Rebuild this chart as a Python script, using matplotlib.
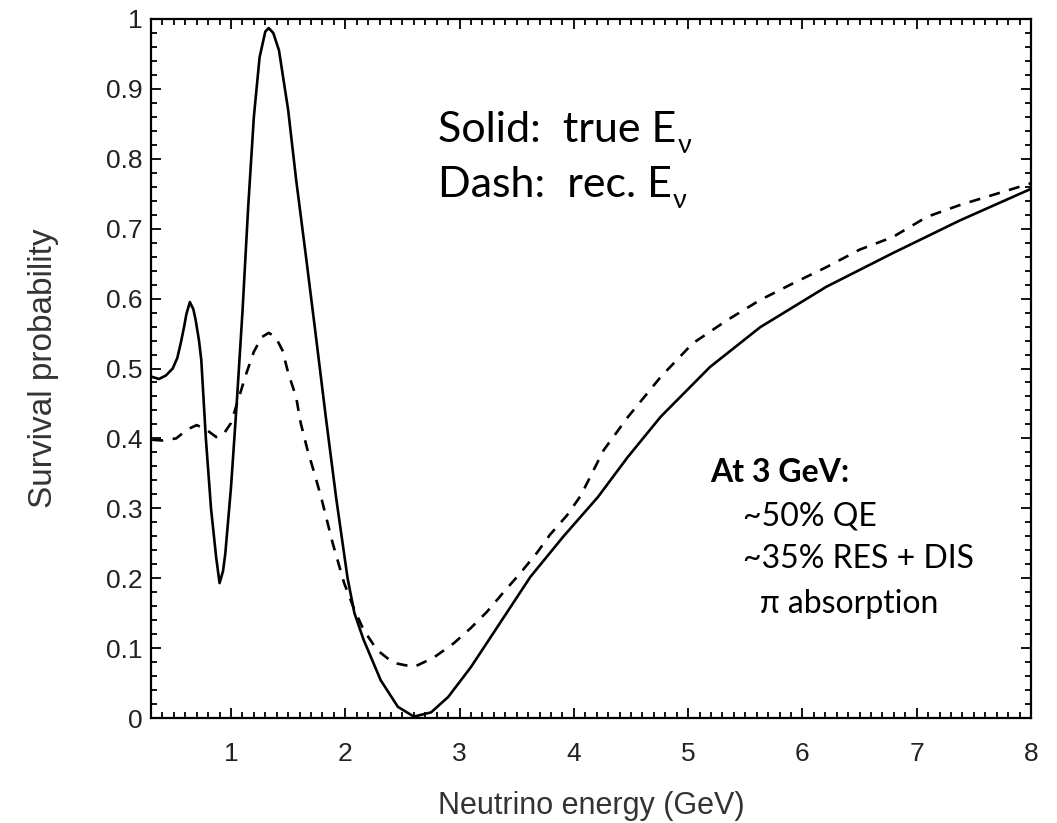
import matplotlib
matplotlib.use("Agg")
import matplotlib.pyplot as plt
from matplotlib.ticker import MultipleLocator, FuncFormatter

# ---- data ----
e_true = [0.31, 0.37, 0.43, 0.49, 0.53, 0.56, 0.59, 0.61, 0.64, 0.67, 0.69, 0.72,
          0.74, 0.78, 0.825, 0.87, 0.90, 0.93, 0.95, 1.00, 1.05, 1.10, 1.15, 1.20,
          1.25, 1.30, 1.33, 1.37, 1.42, 1.50, 1.57, 1.66, 1.74, 1.83, 1.92, 2.02,
          2.08, 2.16, 2.31, 2.46, 2.60, 2.75, 2.90, 3.10, 3.33, 3.62, 3.91, 4.21,
          4.47, 4.76, 5.19, 5.63, 6.21, 6.79, 7.38, 8.00]
p_true = [0.488, 0.485, 0.490, 0.500, 0.515, 0.536, 0.560, 0.578, 0.595, 0.585, 0.570, 0.540,
          0.512, 0.400, 0.300, 0.230, 0.193, 0.210, 0.235, 0.330, 0.450, 0.580, 0.730, 0.860,
          0.945, 0.982, 0.987, 0.980, 0.955, 0.870, 0.770, 0.655, 0.550, 0.430, 0.315, 0.200,
          0.150, 0.112, 0.054, 0.016, 0.002, 0.008, 0.030, 0.073, 0.130, 0.202, 0.260, 0.316,
          0.373, 0.431, 0.502, 0.559, 0.617, 0.665, 0.712, 0.757]

e_rec = [0.31, 0.40, 0.52, 0.62, 0.70, 0.78, 0.87, 0.93, 1.00, 1.07, 1.13, 1.20,
         1.27, 1.33, 1.39, 1.45, 1.50, 1.57, 1.61, 1.67, 1.73, 1.79, 1.89, 1.99,
         2.07, 2.16, 2.28, 2.42, 2.60, 2.77, 2.95, 3.10, 3.24, 3.38, 3.53, 3.68,
         3.79, 3.94, 4.06, 4.26, 4.47, 4.76, 5.04, 5.34, 5.63, 5.92, 6.21, 6.50,
         6.79, 7.09, 7.38, 7.66, 8.00]
p_rec = [0.398, 0.397, 0.400, 0.413, 0.419, 0.413, 0.402, 0.405, 0.422, 0.459, 0.491, 0.524,
         0.545, 0.551, 0.545, 0.526, 0.494, 0.459, 0.422, 0.383, 0.350, 0.315, 0.250, 0.193,
         0.159, 0.126, 0.097, 0.079, 0.073, 0.086, 0.107, 0.129, 0.152, 0.179, 0.207, 0.237,
         0.262, 0.290, 0.318, 0.383, 0.430, 0.488, 0.536, 0.569, 0.598, 0.622, 0.645, 0.670,
         0.688, 0.717, 0.734, 0.748, 0.765]

x_ticks = [1, 2, 3, 4, 5, 6, 7, 8]
y_ticks = [0, 0.1, 0.2, 0.3, 0.4, 0.5, 0.6, 0.7, 0.8, 0.9, 1]
x_label = "Neutrino energy (GeV)"
y_label = "Survival probability"
notes_bold = "At 3 GeV:"
notes = ["~50% QE", "~35% RES + DIS", "π absorption"]

W, H = 1057, 823
fig = plt.figure(figsize=(W / 100, H / 100), dpi=100)
ax = fig.add_axes([151 / W, 1 - 718 / H, (1031 - 151) / W, (718 - 19) / H])

ax.plot(e_true, p_true, color="black", lw=1.9, solid_joinstyle="round")
ax.plot(e_rec, p_rec, color="black", lw=1.9, dashes=(4.2, 3.6))

ax.set_xlim(0.3, 8)
ax.set_ylim(0, 1)
ax.set_xticks(x_ticks)
ax.set_yticks(y_ticks)
ax.xaxis.set_minor_locator(MultipleLocator(0.1))
ax.yaxis.set_minor_locator(MultipleLocator(0.02))
ax.yaxis.set_major_formatter(FuncFormatter(lambda v, p: "%g" % v))
ax.tick_params(which="both", direction="in", top=True, right=True, width=1.3,
               labelsize=19, labelcolor="#222222")
ax.tick_params(axis="x", which="both", pad=17)
ax.tick_params(axis="y", which="both", pad=6)
ax.tick_params(which="major", length=7)
ax.tick_params(which="minor", length=4)
for s in ax.spines.values():
    s.set_linewidth(1.6)

tick_font = "Liberation Sans"
for lab in ax.get_xticklabels() + ax.get_yticklabels():
    lab.set_family(tick_font)
ax.set_xlabel(x_label, fontsize=22, family=tick_font, color="#333333", labelpad=18)
ax.set_ylabel(y_label, fontsize=24, family=tick_font, color="#333333", labelpad=34)

fam = ["Lato", "Open Sans", "DejaVu Sans"]

def fy(py):
    return 1 - py / H

fig.canvas.draw()
renderer = fig.canvas.get_renderer()

def text_with_sub(px, py, main, sub, size):
    t = fig.text(px / W, fy(py), main, fontsize=size, family=fam, va="baseline", ha="left")
    bb = t.get_window_extent(renderer=renderer)
    fig.text((bb.x1 + 1) / W, fy(py + 0.32 * size * 100 / 72 * 0.5 + 4), sub,
             fontsize=size * 0.62, family=fam, va="baseline", ha="left")

text_with_sub(438, 142, "Solid:  true E", "ν", 31)
text_with_sub(438, 197, "Dash:  rec. E", "ν", 31)

note_size = 23
fig.text(710 / W, fy(482), notes_bold, fontsize=note_size, family=fam, fontweight="bold",
         va="baseline", ha="left")
fig.text(743 / W, fy(525), notes[0], fontsize=note_size, family=fam, va="baseline", ha="left")
fig.text(743 / W, fy(568), notes[1], fontsize=note_size, family=fam, va="baseline", ha="left")
fig.text(760 / W, fy(613), notes[2], fontsize=note_size, family=fam, va="baseline", ha="left")

fig.savefig("out.png", dpi=100)
